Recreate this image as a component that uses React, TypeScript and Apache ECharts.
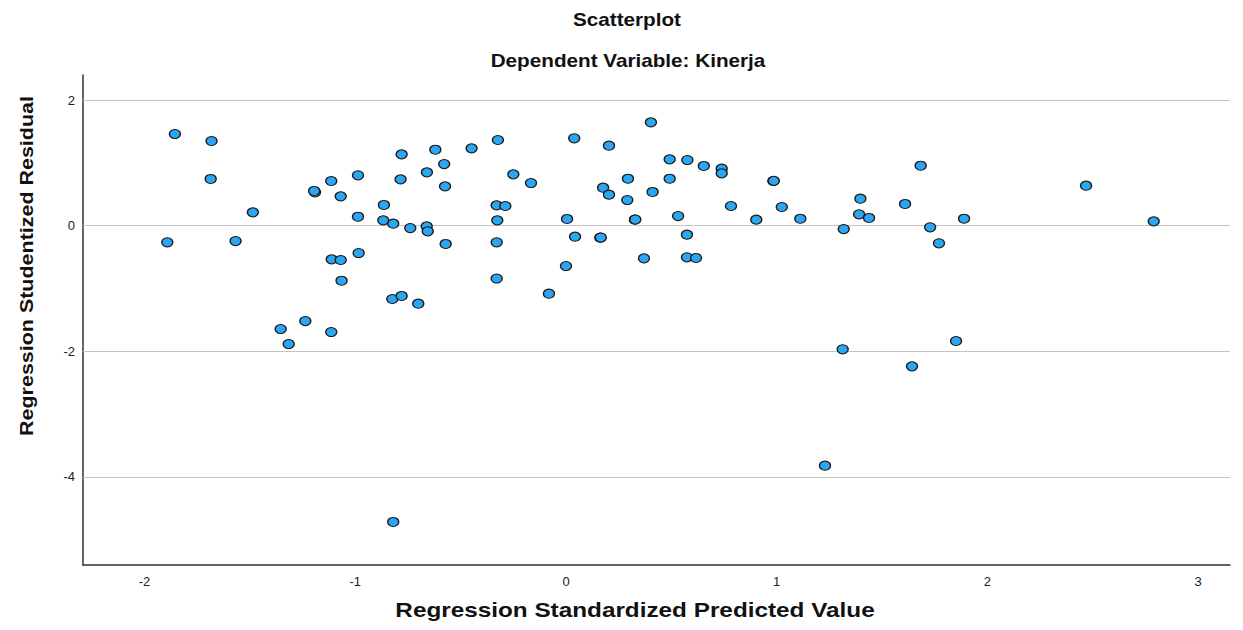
import React, { useEffect, useRef } from "react";
import * as echarts from "echarts";

const chartTitle = "Scatterplot";
const chartSubtitle = "Dependent Variable: Kinerja";
const xAxisTitle = "Regression Standardized Predicted Value";
const yAxisTitle = "Regression Studentized Residual";

const predicted: number[] = [
  -1.856, -1.682, -1.686, -1.486, -1.892, -1.568, -1.191, -1.195, -1.114, -1.069,
  -0.987, -0.987, -0.864, -0.867, -0.82, -0.78, -0.785, -0.739, -0.66, -0.661,
  -0.656, -0.62, -0.578, -0.574, -0.571, -0.448, -0.323, -0.329, -0.288, -0.326,
  -0.329, -0.329, -1.112, -1.069, -0.984, -1.065, -0.824, -0.78, -0.701, -1.354,
  -1.237, -1.114, -1.316, -0.82, -0.25, -0.166, -0.081, 0.0, 0.005, 0.043,
  0.039, 0.204, 0.176, 0.204, 0.163, 0.165, 0.294, 0.291, 0.327, 0.329,
  0.403, 0.411, 0.37, 0.492, 0.492, 0.532, 0.574, 0.576, 0.574, 0.617,
  0.654, 0.739, 0.739, 0.783, 0.903, 0.984, 0.986, 1.024, 1.112, 1.318,
  1.397, 1.391, 1.438, 1.313, 1.229, 1.609, 1.683, 1.728, 1.77, 1.889,
  1.851, 1.642, 2.468, 2.789,
];

const residual: number[] = [
  1.46, 1.349, 0.744, 0.213, -0.264, -0.244, 0.532, 0.553, 0.712, 0.468,
  0.803, 0.143, 0.33, 0.086, 0.032, 1.137, 0.739, -0.037, 0.85, -0.01,
  -0.089, 1.21, 0.982, 0.627, -0.291, 1.232, 1.365, 0.325, 0.314, 0.086,
  -0.264, -0.841, -0.535, -0.546, -0.435, -0.876, -1.167, -1.119, -1.242, -1.645,
  -1.518, -1.693, -1.884, -4.718, 0.818, 0.68, -1.083, -0.642, 0.107, -0.175,
  1.392, 1.274, 0.605, 0.494, -0.191, -0.188, 0.748, 0.409, 0.096, 0.099,
  1.646, 0.537, -0.519, 1.057, 0.748, 0.154, -0.143, 1.046, -0.503, -0.514,
  0.951, 0.908, 0.834, 0.314, 0.096, 0.712, 0.715, 0.298, 0.111, -0.053,
  0.43, 0.182, 0.123, -1.968, -3.822, 0.346, 0.955, -0.025, -0.28, 0.111,
  -1.836, -2.239, 0.637, 0.07,
];

const yGridValues = [2, 0, -2, -4];

const FONT = "'Liberation Sans', Arial, sans-serif";

export default function App() {
  const ref = useRef<HTMLDivElement>(null);
  useEffect(() => {
    if (!ref.current) return;
    const chart = echarts.init(ref.current, undefined, { renderer: "svg" });
    const data = predicted.map((x, i) => [x, residual[i]]);
    chart.setOption({
      animation: false,
      backgroundColor: "#ffffff",
      textStyle: { fontFamily: FONT },
      grid: { left: 83, top: 75, width: 1147, height: 490, containLabel: false },
      xAxis: {
        type: "value",
        min: -2.292,
        max: 3.151,
        splitNumber: 5,
        axisLine: { show: true, onZero: false, lineStyle: { color: "#333333", width: 1.5 } },
        axisTick: { show: false },
        splitLine: { show: false },
        axisLabel: {
          show: true,
          margin: 10,
          fontSize: 13,
          color: "#222222",
          fontFamily: FONT,
          showMinLabel: false,
          showMaxLabel: false,
          formatter: (v: number) => (Number.isInteger(v) ? String(v) : ""),
        },
      },
      yAxis: {
        type: "value",
        min: -5.403,
        max: 2.4,
        splitNumber: 4,
        axisLine: { show: true, onZero: false, lineStyle: { color: "#333333", width: 1.5 } },
        axisTick: { show: false },
        splitLine: { show: false },
        axisLabel: {
          show: true,
          margin: 8,
          fontSize: 13,
          color: "#222222",
          fontFamily: FONT,
          showMinLabel: false,
          showMaxLabel: false,
          formatter: (v: number) => (Number.isInteger(v) && v % 2 === 0 ? String(v) : ""),
        },
      },
      graphic: [
        {
          type: "text",
          x: 627,
          y: 20,
          scaleX: 1.15,
          style: {
            text: chartTitle,
            font: `bold 18px ${FONT}`,
            fill: "#111111",
            align: "center",
            verticalAlign: "middle",
          },
        },
        {
          type: "text",
          x: 628,
          y: 61,
          scaleX: 1.15,
          style: {
            text: chartSubtitle,
            font: `bold 18px ${FONT}`,
            fill: "#111111",
            align: "center",
            verticalAlign: "middle",
          },
        },
        {
          type: "text",
          x: 635,
          y: 610,
          scaleX: 1.215,
          style: {
            text: xAxisTitle,
            font: `bold 20px ${FONT}`,
            fill: "#111111",
            align: "center",
            verticalAlign: "middle",
          },
        },
        {
          type: "text",
          x: 26,
          y: 266,
          rotation: Math.PI / 2,
          scaleX: 1.13,
          style: {
            text: yAxisTitle,
            font: `bold 19px ${FONT}`,
            fill: "#111111",
            align: "center",
            verticalAlign: "middle",
          },
        },
      ],
      series: [
        {
          type: "scatter",
          data,
          symbol: "circle",
          symbolSize: [11, 9],
          itemStyle: { color: "#2aa6f2", borderColor: "#1b1b1b", borderWidth: 1.2, opacity: 1 },
          z: 3,
          markLine: {
            silent: true,
            symbol: "none",
            label: { show: false },
            lineStyle: { color: "#c4c4c4", width: 1.2, type: "solid" },
            data: yGridValues.map((v) => ({ yAxis: v })),
            z: 1,
          },
        },
      ],
    });
    return () => chart.dispose();
  }, []);
  return (
    <div
      ref={ref}
      style={{ position: "absolute", left: 0, top: 0, width: 1243, height: 630 }}
    />
  );
}
